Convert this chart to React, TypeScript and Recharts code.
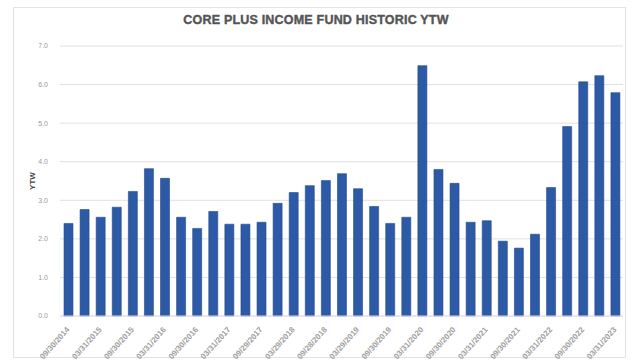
import React from "react";
import { BarChart, Bar, XAxis, YAxis, CartesianGrid, Label } from "recharts";

const dates: string[] = [
  "09/30/2014", "12/31/2014", "03/31/2015", "06/30/2015", "09/30/2015", "12/31/2015",
  "03/31/2016", "06/30/2016", "09/30/2016", "12/30/2016", "03/31/2017", "06/30/2017",
  "09/29/2017", "12/29/2017", "03/29/2018", "06/29/2018", "09/28/2018", "12/31/2018",
  "03/29/2019", "06/28/2019", "09/30/2019", "12/31/2019", "03/31/2020", "06/30/2020",
  "09/30/2020", "12/31/2020", "03/31/2021", "06/30/2021", "09/30/2021", "12/31/2021",
  "03/31/2022", "06/30/2022", "09/30/2022", "12/30/2022", "03/31/2023",
];

const ytw: number[] = [
  2.40, 2.76, 2.56, 2.82, 3.23, 3.82, 3.57, 2.56, 2.27, 2.71, 2.38, 2.38,
  2.43, 2.92, 3.20, 3.38, 3.51, 3.69, 3.30, 2.84, 2.40, 2.56, 6.49, 3.80,
  3.44, 2.43, 2.47, 1.94, 1.76, 2.12, 3.33, 4.91, 6.07, 6.23, 5.79,
];

const yTicks: number[] = [0, 1, 2, 3, 4, 5, 6, 7];

const data = dates.map((d, i) => ({ date: d, ytw: ytw[i] }));

const FONT = "Liberation Sans, Arial, sans-serif";

const XTick = (props: any) => {
  const { x, y, payload } = props;
  return (
    <g transform={`translate(${x + 2},${y + 6})`}>
      <text
        x={0}
        y={0}
        textAnchor="end"
        transform="rotate(-48)"
        fontSize={8}
        fontWeight={700}
        fill="#a0a0a0"
        fontFamily={FONT}
      >
        {payload.value}
      </text>
    </g>
  );
};

export default function App() {
  return (
    <div style={{ position: "absolute", left: 0, top: 0, width: 632, height: 364, background: "#fff" }}>
      <svg style={{ position: "absolute", left: 0, top: 0 }} width={632} height={364}>
        <rect x={13.5} y={7.5} width={612} height={350} fill="none" stroke="#e3e3e3" strokeWidth={1} />
      </svg>
      <div
        style={{
          position: "absolute",
          left: 0,
          top: 13,
          width: 632,
          textAlign: "center",
          fontFamily: FONT,
          fontWeight: 700,
          fontSize: 12.5,
          color: "#555555",
          letterSpacing: 0.2,
          WebkitTextStroke: "0.4px #555555",
        }}
      >
        CORE PLUS INCOME FUND HISTORIC YTW
      </div>
      <div style={{ position: "absolute", left: 0, top: 0 }}>
        <BarChart
          width={632}
          height={364}
          data={data}
          margin={{ top: 46, right: 9, bottom: 0, left: 20 }}
          barSize={9}
        >
          <CartesianGrid vertical={false} stroke="#e0e0e0" />
          <XAxis
            dataKey="date"
            interval={1}
            tick={<XTick />}
            tickLine={false}
            axisLine={{ stroke: "#e0e0e0" }}
            height={48}
          />
          <YAxis
            domain={[0, 7]}
            ticks={yTicks}
            tickFormatter={(v: number) => v.toFixed(1)}
            tick={{ fontSize: 7, fill: "#9a9a9a", fontFamily: FONT, dx: -4 }}
            tickLine={false}
            axisLine={false}
            width={40}
          >
            <Label
              value="YTW"
              angle={-90}
              position="insideLeft"
              offset={12}
              style={{ fontSize: 8, fontWeight: 700, fill: "#444", fontFamily: FONT, textAnchor: "middle" }}
            />
          </YAxis>
          <Bar dataKey="ytw" fill="#2c5aa6" stroke="#24498a" strokeWidth={0.6} isAnimationActive={false} />
        </BarChart>
      </div>
    </div>
  );
}
